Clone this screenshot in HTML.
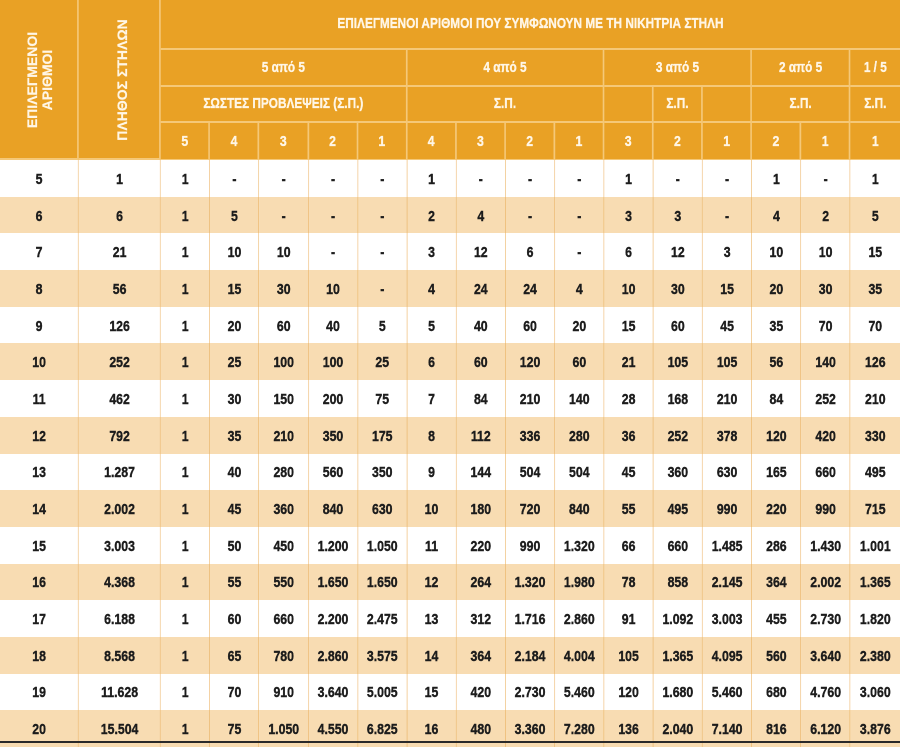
<!DOCTYPE html>
<html>
<head>
<meta charset="utf-8">
<style>
html,body{margin:0;padding:0;}
body{width:900px;height:743px;overflow:hidden;position:relative;background:#fff;}
.wrap{position:absolute;left:0;top:0;width:1097.56px;transform:scaleX(0.82);transform-origin:0 0;}
.hg,.bg{display:grid;grid-template-columns:96.34px 100px repeat(15,60.08px);}
.hg{grid-template-rows:50px 37px 36px 37px;}
.bg{grid-auto-rows:36.7px;}
.h{background:#E9A125;color:#FFF6E6;border-right:2px solid #F5C878;border-bottom:2px solid #F5C878;display:flex;align-items:center;justify-content:center;box-sizing:border-box;font:bold 14.4px "Liberation Sans","Noto Sans CJK SC",sans-serif;white-space:pre;-webkit-text-stroke:0.35px #FFF6E6;}
.h.n{font-size:15px;}
.h.e{border-right:none;}
.r{display:contents;}
.r>div{display:flex;align-items:center;justify-content:center;box-sizing:border-box;border-right:1.2px solid #F0C487;font:bold 15px "Liberation Sans",sans-serif;color:#1c1c1c;padding-top:2px;background:#fff;white-space:nowrap;-webkit-text-stroke:0.4px #1c1c1c;}
.r>div:last-child{border-right:none;}
.r.p>div{background:#F8DCB2;border-right-color:#ECBA72;}
.rot{position:absolute;color:#FFF6E6;font:bold 14px "Liberation Sans",sans-serif;text-align:center;transform:rotate(-90deg);white-space:nowrap;-webkit-text-stroke:0.2px #FFF6E6;}
.bot{position:absolute;left:0;top:741px;width:900px;height:2px;background:#2a2a2a;}
</style>
</head>
<body>
<div class="wrap">
<div class="hg">
  <div class="h" style="grid-column:1;grid-row:1/5;"></div>
  <div class="h" style="grid-column:2;grid-row:1/5;"></div>
  <div class="h e" style="grid-column:3/18;grid-row:1;">ΕΠΙΛΕΓΜΕΝΟΙ ΑΡΙΘΜΟΙ ΠΟΥ ΣΥΜΦΩΝΟΥΝ ΜΕ ΤΗ ΝΙΚΗΤΡΙΑ ΣΤΗΛΗ</div>
  <div class="h" style="grid-column:3/8;grid-row:2;">5 από 5</div>
  <div class="h" style="grid-column:8/12;grid-row:2;">4 από 5</div>
  <div class="h" style="grid-column:12/15;grid-row:2;">3 από 5</div>
  <div class="h" style="grid-column:15/17;grid-row:2;">2 από 5</div>
  <div class="h e" style="grid-column:17/18;grid-row:2;">1 / 5</div>
  <div class="h" style="grid-column:3/8;grid-row:3;">ΣΩΣΤΕΣ ΠΡΟΒΛΕΨΕΙΣ (Σ.Π.)</div>
  <div class="h" style="grid-column:8/12;grid-row:3;">Σ.Π.</div>
  <div class="h" style="grid-column:12;grid-row:3;"></div>
  <div class="h" style="grid-column:13;grid-row:3;">Σ.Π.</div>
  <div class="h" style="grid-column:14;grid-row:3;"></div>
  <div class="h" style="grid-column:15/17;grid-row:3;">Σ.Π.</div>
  <div class="h e" style="grid-column:17;grid-row:3;">Σ.Π.</div>
  <div class="h n" style="grid-column:3;grid-row:4;border-bottom-width:1px;">5</div>
  <div class="h n" style="grid-column:4;grid-row:4;border-bottom-width:1px;">4</div>
  <div class="h n" style="grid-column:5;grid-row:4;border-bottom-width:1px;">3</div>
  <div class="h n" style="grid-column:6;grid-row:4;border-bottom-width:1px;">2</div>
  <div class="h n" style="grid-column:7;grid-row:4;border-bottom-width:1px;">1</div>
  <div class="h n" style="grid-column:8;grid-row:4;border-bottom-width:1px;">4</div>
  <div class="h n" style="grid-column:9;grid-row:4;border-bottom-width:1px;">3</div>
  <div class="h n" style="grid-column:10;grid-row:4;border-bottom-width:1px;">2</div>
  <div class="h n" style="grid-column:11;grid-row:4;border-bottom-width:1px;">1</div>
  <div class="h n" style="grid-column:12;grid-row:4;border-bottom-width:1px;">3</div>
  <div class="h n" style="grid-column:13;grid-row:4;border-bottom-width:1px;">2</div>
  <div class="h n" style="grid-column:14;grid-row:4;border-bottom-width:1px;">1</div>
  <div class="h n" style="grid-column:15;grid-row:4;border-bottom-width:1px;">2</div>
  <div class="h n" style="grid-column:16;grid-row:4;border-bottom-width:1px;">1</div>
  <div class="h n e" style="grid-column:17;grid-row:4;border-bottom-width:1px;">1</div>
</div>
<div class="bg">
<div class="r"><div>5</div><div>1</div><div>1</div><div>-</div><div>-</div><div>-</div><div>-</div><div>1</div><div>-</div><div>-</div><div>-</div><div>1</div><div>-</div><div>-</div><div>1</div><div>-</div><div>1</div></div>
<div class="r p"><div>6</div><div>6</div><div>1</div><div>5</div><div>-</div><div>-</div><div>-</div><div>2</div><div>4</div><div>-</div><div>-</div><div>3</div><div>3</div><div>-</div><div>4</div><div>2</div><div>5</div></div>
<div class="r"><div>7</div><div>21</div><div>1</div><div>10</div><div>10</div><div>-</div><div>-</div><div>3</div><div>12</div><div>6</div><div>-</div><div>6</div><div>12</div><div>3</div><div>10</div><div>10</div><div>15</div></div>
<div class="r p"><div>8</div><div>56</div><div>1</div><div>15</div><div>30</div><div>10</div><div>-</div><div>4</div><div>24</div><div>24</div><div>4</div><div>10</div><div>30</div><div>15</div><div>20</div><div>30</div><div>35</div></div>
<div class="r"><div>9</div><div>126</div><div>1</div><div>20</div><div>60</div><div>40</div><div>5</div><div>5</div><div>40</div><div>60</div><div>20</div><div>15</div><div>60</div><div>45</div><div>35</div><div>70</div><div>70</div></div>
<div class="r p"><div>10</div><div>252</div><div>1</div><div>25</div><div>100</div><div>100</div><div>25</div><div>6</div><div>60</div><div>120</div><div>60</div><div>21</div><div>105</div><div>105</div><div>56</div><div>140</div><div>126</div></div>
<div class="r"><div>11</div><div>462</div><div>1</div><div>30</div><div>150</div><div>200</div><div>75</div><div>7</div><div>84</div><div>210</div><div>140</div><div>28</div><div>168</div><div>210</div><div>84</div><div>252</div><div>210</div></div>
<div class="r p"><div>12</div><div>792</div><div>1</div><div>35</div><div>210</div><div>350</div><div>175</div><div>8</div><div>112</div><div>336</div><div>280</div><div>36</div><div>252</div><div>378</div><div>120</div><div>420</div><div>330</div></div>
<div class="r"><div>13</div><div>1.287</div><div>1</div><div>40</div><div>280</div><div>560</div><div>350</div><div>9</div><div>144</div><div>504</div><div>504</div><div>45</div><div>360</div><div>630</div><div>165</div><div>660</div><div>495</div></div>
<div class="r p"><div>14</div><div>2.002</div><div>1</div><div>45</div><div>360</div><div>840</div><div>630</div><div>10</div><div>180</div><div>720</div><div>840</div><div>55</div><div>495</div><div>990</div><div>220</div><div>990</div><div>715</div></div>
<div class="r"><div>15</div><div>3.003</div><div>1</div><div>50</div><div>450</div><div>1.200</div><div>1.050</div><div>11</div><div>220</div><div>990</div><div>1.320</div><div>66</div><div>660</div><div>1.485</div><div>286</div><div>1.430</div><div>1.001</div></div>
<div class="r p"><div>16</div><div>4.368</div><div>1</div><div>55</div><div>550</div><div>1.650</div><div>1.650</div><div>12</div><div>264</div><div>1.320</div><div>1.980</div><div>78</div><div>858</div><div>2.145</div><div>364</div><div>2.002</div><div>1.365</div></div>
<div class="r"><div>17</div><div>6.188</div><div>1</div><div>60</div><div>660</div><div>2.200</div><div>2.475</div><div>13</div><div>312</div><div>1.716</div><div>2.860</div><div>91</div><div>1.092</div><div>3.003</div><div>455</div><div>2.730</div><div>1.820</div></div>
<div class="r p"><div>18</div><div>8.568</div><div>1</div><div>65</div><div>780</div><div>2.860</div><div>3.575</div><div>14</div><div>364</div><div>2.184</div><div>4.004</div><div>105</div><div>1.365</div><div>4.095</div><div>560</div><div>3.640</div><div>2.380</div></div>
<div class="r"><div>19</div><div>11.628</div><div>1</div><div>70</div><div>910</div><div>3.640</div><div>5.005</div><div>15</div><div>420</div><div>2.730</div><div>5.460</div><div>120</div><div>1.680</div><div>5.460</div><div>680</div><div>4.760</div><div>3.060</div></div>
<div class="r p"><div>20</div><div>15.504</div><div>1</div><div>75</div><div>1.050</div><div>4.550</div><div>6.825</div><div>16</div><div>480</div><div>3.360</div><div>7.280</div><div>136</div><div>2.040</div><div>7.140</div><div>816</div><div>6.120</div><div>3.876</div></div>
</div>
</div>
<div class="rot" style="left:-25.5px;top:65px;width:130px;height:30px;line-height:15px;">ΕΠΙΛΕΓΜΕΝΟΙ<br>ΑΡΙΘΜΟΙ</div>
<div class="rot" style="left:51.5px;top:72px;width:140px;height:16px;line-height:16px;">ΠΛΗΘΟΣ ΣΤΗΛΩΝ</div>
<div class="bot"></div>
</body>
</html>
